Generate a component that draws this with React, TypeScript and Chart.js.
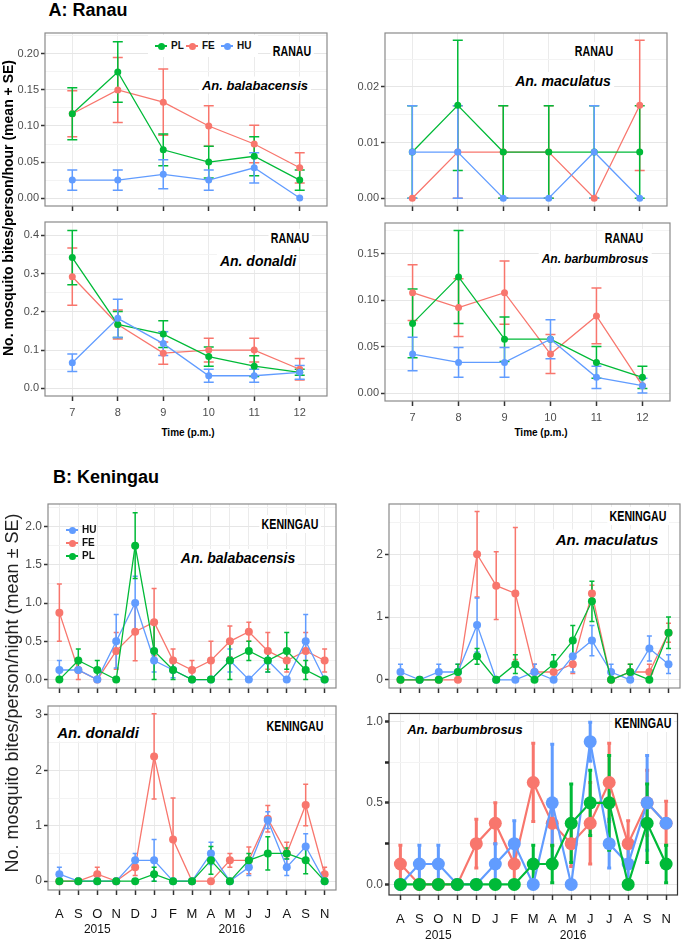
import React, { useEffect, useRef } from 'react';
import { Chart, registerables } from 'chart.js';
Chart.register(...registerables);

const GREEN = '#00BA38';
const RED = '#F8766D';
const BLUE = '#619CFF';
const NARROW = '"Liberation Sans Narrow", "Arial Narrow", "Liberation Sans", Arial, sans-serif';
const SANS = '"Liberation Sans", Arial, sans-serif';

// ---------- categories / tick labels ----------
const hours = [7, 8, 9, 10, 11, 12];
const hourLabels = ['7', '8', '9', '10', '11', '12'];
const months = ['A', 'S', 'O', 'N', 'D', 'J', 'F', 'M', 'A', 'M', 'J', 'J', 'A', 'S', 'N'];
const monthPos = months.map((_, i) => i + 1);
const years = ['2015', '2016'];
const yearPos = [3, 10.1];

// ---------- A: Ranau (hourly) ----------
const a1PL = [0.117, 0.175, 0.067, 0.05, 0.058, 0.025];
const a1PLse = [0.036, 0.042, 0.022, 0.022, 0.027, 0.014];
const a1FE = [0.117, 0.15, 0.133, 0.1, 0.075, 0.042];
const a1FEse = [0.032, 0.045, 0.046, 0.028, 0.026, 0.021];
const a1HU = [0.025, 0.025, 0.033, 0.025, 0.042, 0.0];
const a1HUse = [0.014, 0.014, 0.02, 0.014, 0.021, 0];

const a2PL = [0.0083, 0.0167, 0.0083, 0.0083, 0.0083, 0.0083];
const a2PLse = [0.0083, 0.0117, 0.0083, 0.0083, 0.0083, 0.0083];
const a2FE = [0, 0.0083, 0.0083, 0.0083, 0, 0.0167];
const a2FEse = [0, 0.0083, 0.0083, 0.0083, 0, 0.0117];
const a2HU = [0.0083, 0.0083, 0, 0, 0.0083, 0];
const a2HUse = [0.0083, 0.0083, 0, 0, 0.0083, 0];

const a3PL = [0.342, 0.167, 0.142, 0.083, 0.058, 0.042];
const a3PLse = [0.071, 0.034, 0.035, 0.025, 0.027, 0.008];
const a3FE = [0.292, 0.167, 0.092, 0.1, 0.1, 0.05];
const a3FEse = [0.075, 0.038, 0.029, 0.031, 0.031, 0.028];
const a3HU = [0.067, 0.183, 0.117, 0.033, 0.033, 0.042];
const a3HUse = [0.023, 0.05, 0.031, 0.017, 0.017, 0.018];

const a4PL = [0.075, 0.125, 0.058, 0.058, 0.033, 0.017];
const a4PLse = [0.037, 0.05, 0.024, 0, 0.017, 0.012];
const a4FE = [0.108, 0.092, 0.108, 0.042, 0.083, 0.008];
const a4FEse = [0.03, 0.031, 0.034, 0.021, 0.03, 0];
const a4HU = [0.042, 0.033, 0.033, 0.058, 0.017, 0.008];
const a4HUse = [0.018, 0.016, 0.016, 0.021, 0.012, 0.008];

// ---------- B: Keningau (monthly) ----------
const b1HU = [0.125, 0.125, 0, 0.5, 1.0, 0.25, 0.125, 0, 0, 0.25, 0, 0.25, 0, 0.5, 0];
const b1HUse = [0.125, 0, 0, 0.35, 0.35, 0.15, 0.1, 0, 0, 0.15, 0, 0.15, 0, 0.35, 0];
const b1FE = [0.875, 0.125, 0, 0.375, 0.625, 0.75, 0.25, 0.125, 0.25, 0.5, 0.625, 0.375, 0.25, 0.375, 0.25];
const b1FEse = [0.375, 0.125, 0, 0.24, 0.38, 0.44, 0.15, 0.125, 0.25, 0.2, 0.125, 0.24, 0.15, 0.24, 0.15];
const b1PL = [0, 0.25, 0.125, 0, 1.75, 0.375, 0.125, 0, 0, 0.25, 0.375, 0.25, 0.375, 0.125, 0];
const b1PLse = [0, 0.15, 0.125, 0, 0.43, 0.375, 0.125, 0, 0, 0.25, 0.125, 0.15, 0.24, 0.125, 0];

const b2HU = [0.125, 0, 0.125, 0.125, 0.875, 0, 0, 0.125, 0, 0.375, 0.625, 0.125, 0, 0.5, 0.25];
const b2HUse = [0.125, 0, 0.125, 0.125, 0.43, 0, 0, 0.125, 0, 0.25, 0.24, 0.125, 0, 0.2, 0.15];
const b2FE = [0, 0, 0, 0, 2.0, 1.5, 1.375, 0.125, 0.125, 0.25, 1.375, 0, 0.125, 0.125, 0.75];
const b2FEse = [0, 0, 0, 0, 0.68, 0.54, 1.05, 0.125, 0.125, 0.15, 0.13, 0, 0.125, 0.125, 0.15];
const b2PL = [0, 0, 0, 0.125, 0.375, 0, 0.25, 0, 0.25, 0.625, 1.25, 0, 0.125, 0, 0.75];
const b2PLse = [0, 0, 0, 0.125, 0.125, 0, 0.15, 0, 0.15, 0.24, 0.32, 0, 0.125, 0, 0.25];

const b3HU = [0.125, 0, 0, 0, 0.375, 0.375, 0, 0, 0.5, 0, 0.25, 1.1, 0.25, 0.625, 0];
const b3HUse = [0.125, 0, 0, 0, 0.125, 0.375, 0, 0, 0.2, 0, 0.15, 0.15, 0.15, 0.23, 0];
const b3FE = [0, 0, 0.125, 0, 0.25, 2.25, 0.75, 0, 0, 0.375, 0.375, 1.125, 0.5, 1.375, 0.125];
const b3FEse = [0, 0, 0.125, 0, 0.15, 0.77, 0.75, 0, 0, 0.125, 0.24, 0.24, 0.2, 0.375, 0.125];
const b3PL = [0, 0, 0, 0, 0, 0.125, 0, 0, 0.375, 0, 0.375, 0.5, 0.5, 0.375, 0];
const b3PLse = [0, 0, 0, 0, 0, 0.125, 0, 0, 0.25, 0, 0.125, 0.3, 0.1, 0.24, 0];

const b4HU = [0, 0.125, 0.125, 0, 0, 0.125, 0.25, 0, 0.5, 0, 0.875, 0.25, 0.125, 0.5, 0.375];
const b4HUse = [0, 0.115, 0.115, 0, 0, 0.125, 0.14, 0, 0.36, 0, 0.12, 0.15, 0.125, 0.29, 0];
const b4FE = [0.125, 0, 0, 0, 0.25, 0.375, 0.125, 0.625, 0.375, 0.25, 0.375, 0.625, 0.25, 0.5, 0.375];
const b4FEse = [0.115, 0, 0, 0, 0.15, 0.125, 0.115, 0.24, 0.14, 0.14, 0.25, 0.24, 0.14, 0.2, 0.135];
const b4PL = [0, 0, 0, 0, 0, 0, 0, 0.125, 0.125, 0.375, 0.5, 0.5, 0, 0.375, 0.125];
const b4PLse = [0, 0, 0, 0, 0, 0, 0, 0.115, 0.115, 0.24, 0.2, 0.29, 0, 0.24, 0.115];

type Series = { name: string; color: string; values: number[]; se: number[] };
type PanelCfg = {
  box: [number, number, number, number];
  yAxisW: number;
  xAxisH: number;
  xMin: number;
  xMax: number;
  xValues: number[];
  xLabels: string[] | null;
  xFont: string;
  xColor: string;
  xPad: number;
  yMin: number;
  yMax: number;
  yMajor: number;
  yDec: number;
  yFont: string;
  yColor: string;
  series: Series[];
  pointR: number;
  lineW: number;
  errW: number;
  capHalf: number;
  border: string;
  minorTicks?: boolean;
  yearOffset?: number;
};

const A_STYLE = { pointR: 3.5, lineW: 1.3, errW: 1.5, capHalf: 5, border: '#8a8a8a' };
const B_STYLE = { pointR: 4, lineW: 1.3, errW: 1.5, capHalf: 2.5, border: '#8a8a8a' };

// first series is drawn on top
const aSeries = (pl: number[], pls: number[], fe: number[], fes: number[], hu: number[], hus: number[]): Series[] => [
  { name: 'HU', color: BLUE, values: hu, se: hus },
  { name: 'PL', color: GREEN, values: pl, se: pls },
  { name: 'FE', color: RED, values: fe, se: fes },
];

const aBase = {
  xMin: 6.4, xMax: 12.6, xValues: hours, xFont: `11px ${NARROW}`, xColor: '#4d4d4d', xPad: 5,
  yFont: `11px ${NARROW}`, yColor: '#4d4d4d', yAxisW: 40,
};
const bBase = {
  xMin: 0.4, xMax: 15.6, xValues: monthPos, xFont: `13px ${NARROW}`, xColor: '#111', xPad: 12,
  yFont: `12px ${NARROW}`, yColor: '#4d4d4d', yAxisW: 41,
};

const panels: PanelCfg[] = [
  { ...aBase, ...A_STYLE, box: [45, 30, 330, 206], xAxisH: 8, xLabels: null, yMin: -0.011, yMax: 0.229, yMajor: 0.05, yDec: 2,
    series: aSeries(a1PL, a1PLse, a1FE, a1FEse, a1HU, a1HUse) },
  { ...aBase, ...A_STYLE, box: [385, 30, 670, 206], xAxisH: 8, xLabels: null, yMin: -0.0014, yMax: 0.0297, yMajor: 0.01, yDec: 2,
    series: aSeries(a2PL, a2PLse, a2FE, a2FEse, a2HU, a2HUse) },
  { ...aBase, ...A_STYLE, box: [45, 219, 330, 396], xAxisH: 24, xLabels: hourLabels, yMin: -0.02, yMax: 0.435, yMajor: 0.1, yDec: 1,
    series: aSeries(a3PL, a3PLse, a3FE, a3FEse, a3HU, a3HUse) },
  { ...aBase, ...A_STYLE, box: [385, 220, 673, 401], xAxisH: 24, xLabels: hourLabels, yMin: -0.0085, yMax: 0.183, yMajor: 0.05, yDec: 2,
    series: aSeries(a4PL, a4PLse, a4FE, a4FEse, a4HU, a4HUse) },
  { ...bBase, ...B_STYLE, box: [48, 501, 339, 688], xAxisH: 8, xLabels: null, yMin: -0.11, yMax: 2.295, yMajor: 0.5, yDec: 1,
    series: [
      { name: 'PL', color: GREEN, values: b1PL, se: b1PLse },
      { name: 'HU', color: BLUE, values: b1HU, se: b1HUse },
      { name: 'FE', color: RED, values: b1FE, se: b1FEse },
    ] },
  { ...bBase, ...B_STYLE, box: [389, 501, 683, 688], xAxisH: 8, xLabels: null, yMin: -0.13, yMax: 2.8, yMajor: 1, yDec: 0,
    series: [
      { name: 'PL', color: GREEN, values: b2PL, se: b2PLse },
      { name: 'HU', color: BLUE, values: b2HU, se: b2HUse },
      { name: 'FE', color: RED, values: b2FE, se: b2FEse },
    ] },
  { ...bBase, ...B_STYLE, box: [48, 703, 339, 890], xAxisH: 48, xLabels: months, yMin: -0.16, yMax: 3.16, yMajor: 1, yDec: 0,
    yearOffset: 40,
    series: [
      { name: 'PL', color: GREEN, values: b3PL, se: b3PLse },
      { name: 'HU', color: BLUE, values: b3HU, se: b3HUse },
      { name: 'FE', color: RED, values: b3FE, se: b3FEse },
    ] },
  { ...bBase, pointR: 6.5, lineW: 2.2, errW: 3, capHalf: 2, border: '#333', box: [389, 708, 683, 895], xAxisH: 46,
    xLabels: months, yMin: -0.065, yMax: 1.048, yMajor: 0.5, yDec: 1, minorTicks: true, yearOffset: 41,
    series: [
      { name: 'PL', color: GREEN, values: b4PL, se: b4PLse },
      { name: 'HU', color: BLUE, values: b4HU, se: b4HUse },
      { name: 'FE', color: RED, values: b4FE, se: b4FEse },
    ] },
];

function Panel({ cfg }: { cfg: PanelCfg }) {
  const ref = useRef<HTMLCanvasElement>(null);
  const [bl, bt, br, bb] = cfg.box;
  const left = bl - cfg.yAxisW;
  const top = bt - 1;
  const width = br - bl + cfg.yAxisW + 1;
  const height = bb - bt + 1 + cfg.xAxisH;

  useEffect(() => {
    const isMajor = (v: number) => Math.abs(v / cfg.yMajor - Math.round(v / cfg.yMajor)) < 1e-6;
    const plugin = {
      id: 'panelExtras',
      beforeDatasetsDraw(chart: any) {
        const ctx = chart.ctx;
        const xs = chart.scales.x;
        const ys = chart.scales.y;
        ctx.save();
        cfg.series.slice().reverse().forEach((s) => {
          ctx.strokeStyle = s.color;
          ctx.lineWidth = cfg.errW;
          s.values.forEach((v, i) => {
            const se = s.se[i];
            if (!se) return;
            const x = xs.getPixelForValue(cfg.xValues[i]);
            const y1 = ys.getPixelForValue(v - se);
            const y2 = ys.getPixelForValue(v + se);
            ctx.beginPath();
            ctx.moveTo(x, y1);
            ctx.lineTo(x, y2);
            ctx.moveTo(x - cfg.capHalf, y1);
            ctx.lineTo(x + cfg.capHalf, y1);
            ctx.moveTo(x - cfg.capHalf, y2);
            ctx.lineTo(x + cfg.capHalf, y2);
            ctx.stroke();
          });
        });
        ctx.restore();
      },
      afterDraw(chart: any) {
        const ctx = chart.ctx;
        const a = chart.chartArea;
        ctx.save();
        ctx.strokeStyle = cfg.border;
        ctx.lineWidth = 1.2;
        ctx.strokeRect(a.left, a.top, a.right - a.left, a.bottom - a.top);
        if (cfg.yearOffset) {
          const xs = chart.scales.x;
          ctx.fillStyle = '#111';
          ctx.font = `12px ${NARROW}`;
          ctx.textAlign = 'center';
          ctx.textBaseline = 'middle';
          years.forEach((y, i) => ctx.fillText(y, xs.getPixelForValue(yearPos[i]), a.bottom + cfg.yearOffset!));
        }
        ctx.restore();
      },
    };

    const chart = new Chart(ref.current!, {
      type: 'line',
      data: {
        datasets: cfg.series.map((s) => ({
          label: s.name,
          data: cfg.xValues.map((x, i) => ({ x, y: s.values[i] })),
          borderColor: s.color,
          backgroundColor: s.color,
          pointBackgroundColor: s.color,
          pointBorderWidth: 0,
          pointRadius: cfg.pointR,
          borderWidth: cfg.lineW,
          tension: 0,
        })),
      },
      options: {
        animation: false,
        responsive: false,
        events: [],
        layout: { padding: { top: 1, right: 1, left: 0, bottom: 0 } },
        plugins: { legend: { display: false }, tooltip: { enabled: false } },
        scales: {
          x: {
            type: 'linear',
            min: cfg.xMin,
            max: cfg.xMax,
            afterFit: (s: any) => {
              s.height = cfg.xAxisH;
              s.paddingLeft = 0;
              s.paddingRight = 0;
            },
            border: { display: false },
            grid: { color: '#ebebeb', lineWidth: 1, tickColor: '#333', tickLength: 5, tickWidth: 1.5 },
            ticks: {
              stepSize: 1,
              autoSkip: false,
              includeBounds: false,
              maxRotation: 0,
              padding: cfg.xPad,
              color: cfg.xColor,
              font: { family: cfg.xFont.split('px ')[1], size: parseFloat(cfg.xFont) },
              callback: (v: any) => {
                const i = cfg.xValues.indexOf(Number(v));
                return cfg.xLabels && i >= 0 ? cfg.xLabels[i] : '';
              },
            },
          },
          y: {
            type: 'linear',
            min: cfg.yMin,
            max: cfg.yMax,
            afterFit: (s: any) => {
              s.width = cfg.yAxisW;
              s.paddingTop = 0;
              s.paddingBottom = 0;
            },
            border: { display: false },
            grid: {
              color: (c: any) => (c.tick && isMajor(c.tick.value) ? '#e6e6e6' : '#f3f3f3'),
              lineWidth: 1,
              tickColor: (c: any) =>
                c.tick && isMajor(c.tick.value) ? '#333' : cfg.minorTicks ? '#222' : 'rgba(0,0,0,0)',
              tickLength: 4,
              tickWidth: cfg.minorTicks ? 2.5 : 1.5,
            },
            ticks: {
              stepSize: cfg.yMajor / 2,
              autoSkip: false,
              includeBounds: false,
              padding: 2,
              color: cfg.yColor,
              font: { family: cfg.yFont.split('px ')[1], size: parseFloat(cfg.yFont) },
              callback: (v: any) => (isMajor(Number(v)) ? Number(v).toFixed(cfg.yDec) : ''),
            },
          },
        },
      } as any,
      plugins: [plugin],
    });
    return () => chart.destroy();
  }, []);

  return (
    <canvas
      ref={ref}
      width={width}
      height={height}
      style={{ position: 'absolute', left, top, width, height }}
    />
  );
}

type TxtProps = { x: number; y: number; text: string; font: string; color?: string; bg?: boolean; rotate?: boolean; sx?: number };
function Txt({ x, y, text, font, color = '#000', bg, rotate, sx }: TxtProps) {
  return (
    <div
      style={{
        position: 'absolute',
        left: x,
        top: y,
        transform: `translate(-50%, -50%)${rotate ? ' rotate(-90deg)' : ''}${sx ? ` scaleX(${sx})` : ''}`,
        font,
        color,
        whiteSpace: 'nowrap',
        lineHeight: 1,
        background: bg ? '#fff' : 'transparent',
        padding: bg ? '2px 3px' : 0,
      }}
    >
      {text}
    </div>
  );
}

function LegendKey({ x, y, color, label }: { x: number; y: number; color: string; label: string }) {
  return (
    <>
      <div style={{ position: 'absolute', left: x - 6, top: y - 1, width: 12, height: 2, background: color }} />
      <div style={{ position: 'absolute', left: x - 3.5, top: y - 3.5, width: 7, height: 7, borderRadius: '50%', background: color }} />
      <div style={{ position: 'absolute', left: x + 10, top: y - 6, font: `bold 10px ${SANS}`, lineHeight: '12px', color: '#111' }}>{label}</div>
    </>
  );
}

const SITE = `bold 14px ${SANS}`;
const SX = 0.76;
const spp = (px: number) => `italic bold ${px}px ${SANS}`;

export default function App() {
  return (
    <div style={{ position: 'fixed', left: 0, top: 0, width: 685, height: 941, background: '#fff', overflow: 'hidden' }}>
      {panels.map((p, i) => (
        <Panel key={i} cfg={p} />
      ))}

      <Txt x={88} y={10} text="A: Ranau" font={`bold 18px ${SANS}`} />
      <Txt x={106} y={477} text="B: Keningau" font={`bold 18px ${SANS}`} />
      <Txt x={8} y={208} rotate text="No. mosquito bites/person/hour (mean + SE)" font={`bold 14px ${SANS}`} />
      <Txt x={12} y={693} rotate text="No. mosquito bites/person/night (mean ± SE)" font={`18px ${SANS}`} color="#222" />
      <Txt x={188} y={433} text="Time (p.m.)" font={`bold 10px ${SANS}`} />
      <Txt x={541} y={433} text="Time (p.m.)" font={`bold 10px ${SANS}`} />

      <Txt x={292} y={51} text="RANAU" font={SITE} sx={SX} bg />
      <Txt x={255} y={85} text="An. balabacensis" font={spp(13)} bg />
      <Txt x={594} y={51} text="RANAU" font={SITE} sx={SX} bg />
      <Txt x={563} y={81} text="An. maculatus" font={spp(14)} bg />
      <Txt x={290} y={238} text="RANAU" font={SITE} sx={SX} bg />
      <Txt x={258} y={261} text="An. donaldi" font={spp(14)} bg />
      <Txt x={624} y={238} text="RANAU" font={SITE} sx={SX} bg />
      <Txt x={595} y={259} text="An. barbumbrosus" font={spp(12)} bg />

      <Txt x={290} y={524} text="KENINGAU" font={SITE} sx={SX} bg />
      <Txt x={238} y={558} text="An. balabacensis" font={spp(14)} bg />
      <Txt x={638} y={516} text="KENINGAU" font={SITE} sx={SX} bg />
      <Txt x={607} y={539} text="An. maculatus" font={spp(15)} bg />
      <Txt x={98} y={732} text="An. donaldi" font={spp(15)} bg />
      <Txt x={295} y={726} text="KENINGAU" font={SITE} sx={SX} bg />
      <Txt x={465} y={729} text="An. barbumbrosus" font={spp(13)} bg />
      <Txt x={643} y={723} text="KENINGAU" font={SITE} sx={SX} bg />

      <div style={{ position: 'absolute', left: 148, top: 35, width: 110, height: 22, background: '#fff' }} />
      <LegendKey x={161} y={46} color={GREEN} label="PL" />
      <LegendKey x={192} y={46} color={RED} label="FE" />
      <LegendKey x={227} y={46} color={BLUE} label="HU" />

      <LegendKey x={72} y={530} color={BLUE} label="HU" />
      <LegendKey x={72} y={543} color={RED} label="FE" />
      <LegendKey x={72} y={556} color={GREEN} label="PL" />
    </div>
  );
}
